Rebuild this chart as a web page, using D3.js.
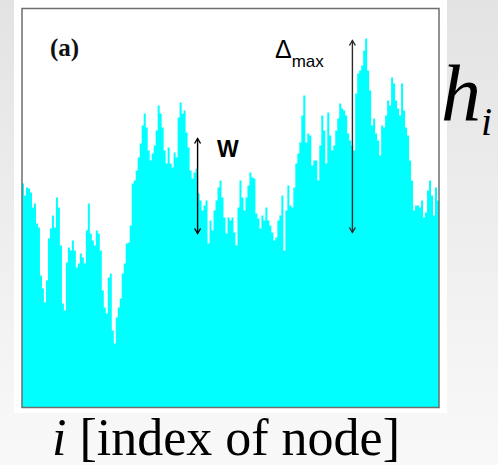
<!DOCTYPE html>
<html>
<head>
<meta charset="utf-8">
<script src="https://cdn.jsdelivr.net/npm/d3@7"></script>
<style>
  html, body { margin: 0; padding: 0; overflow: hidden; background: #f0f0f0; }
  svg { display: block; }
</style>
</head>
<body>
<script>
// Surface height h_i of each node i along the interface
const heights = [
  224, 212, 220, 219, 215, 200, 204, 184, 180, 132, 119, 105, 127, 169, 179, 192, 180, 210, 200, 162,
  104, 97, 145, 160, 157, 167, 157, 140, 144, 154, 150, 144, 177, 204, 174, 167, 162, 177, 174, 157,
  117, 100, 94, 130, 134, 77, 64, 90, 100, 109, 134, 144, 164, 165,
  182, 224, 227, 237, 250, 264, 282, 294, 280, 257, 247, 254, 262, 277, 302, 294, 280, 257, 244, 260,
  244, 240, 255, 250, 290, 305, 294, 297, 275, 260, 237, 229, 235, 239, 214, 207, 197, 202, 207, 164,
  187, 177, 197, 207, 220, 227, 210, 190, 174, 190, 187,
  190, 175, 162, 200, 227, 210, 197, 210, 222, 235, 230, 229, 194, 189, 179, 192, 187, 200, 187, 182,
  175, 167, 170, 187, 192, 212, 157, 197, 222, 202, 200, 220, 244, 254, 265, 292, 312, 265, 274, 272,
  242, 247, 247, 227, 262, 292, 277, 244, 295, 272, 257, 262, 277,
  289, 304, 299, 297, 292, 274, 267, 262, 257, 314, 334, 337, 342, 357, 369, 337, 317, 282, 289, 274,
  267, 252, 282, 280, 292, 307, 302, 330, 324, 307, 299, 292, 324, 297, 280, 272, 247, 227, 197, 202,
  202, 200, 207, 190, 195, 217, 227, 212, 192, 220, 207
];

// Annotated spans: interface width W and the maximal height difference Δmax
const widthSpan = { node: 88, from: 174, to: 269 };
const deltaMaxSpan = { node: 165.6, from: 175, to: 367 };

const W = 498, H = 465;
const svg = d3.select("body").append("svg").attr("width", W).attr("height", H);

// Soft grey slide background
const defs = svg.append("defs");
const bg = defs.append("linearGradient").attr("id", "bg").attr("x1", 0).attr("y1", 0).attr("x2", 0).attr("y2", 1);
bg.append("stop").attr("offset", "0%").attr("stop-color", "#e3e3e3");
bg.append("stop").attr("offset", "100%").attr("stop-color", "#f9f9f9");
svg.append("rect").attr("width", W).attr("height", H).attr("fill", "url(#bg)");

// White card behind the plot
svg.append("rect").attr("x", 14).attr("y", 0).attr("width", 433).attr("height", 413).attr("fill", "#ffffff");

const plot = { left: 22, right: 439, top: 8.5, bottom: 407.5 };
const x = d3.scaleLinear().domain([0, heights.length]).range([plot.left, plot.right]);
const y = d3.scaleLinear().domain([0, 399]).range([plot.bottom, plot.top]);

// Filled height profile
const area = d3.area()
  .x((d, i) => x(i))
  .y0(y(0))
  .y1(d => y(d))
  .curve(d3.curveStepAfter);
svg.append("path")
  .datum(heights.concat([heights[heights.length - 1]]))
  .attr("d", area)
  .attr("fill", "#00ffff");

// Frame
svg.append("rect")
  .attr("x", plot.left).attr("y", plot.top)
  .attr("width", plot.right - plot.left).attr("height", plot.bottom - plot.top)
  .attr("fill", "none").attr("stroke", "#6e6e6e").attr("stroke-width", 1.5);

// Double-headed arrows
function doubleArrow(span, color, width) {
  const ax = x(span.node), yTop = y(span.to), yBot = y(span.from);
  const g = svg.append("g").attr("stroke", color).attr("stroke-width", width).attr("fill", "none");
  g.append("line").attr("x1", ax).attr("x2", ax).attr("y1", yTop).attr("y2", yBot);
  g.append("path").attr("d", `M${ax - 3},${yTop + 5} L${ax},${yTop} L${ax + 3},${yTop + 5}`);
  g.append("path").attr("d", `M${ax - 3},${yBot - 5} L${ax},${yBot} L${ax + 3},${yBot - 5}`);
}
doubleArrow(widthSpan, "#000000", 1.4);
doubleArrow(deltaMaxSpan, "#2a2a2a", 1.4);

// Labels
svg.append("text")
  .attr("x", 50).attr("y", 56)
  .attr("font-family", "'Liberation Serif', 'Times New Roman', serif")
  .attr("font-weight", "bold").attr("font-size", 25)
  .attr("fill", "#111").text("(a)");

svg.append("text")
  .attr("x", 217).attr("y", 157)
  .attr("font-family", "'Liberation Sans', Arial, sans-serif")
  .attr("font-weight", "bold").attr("font-size", 23)
  .attr("fill", "#000").text("W");

const dm = svg.append("text")
  .attr("x", 275).attr("y", 58)
  .attr("font-family", "'Liberation Sans', Arial, sans-serif")
  .attr("fill", "#000");
dm.append("tspan").attr("font-size", 25).text("Δ");
dm.append("tspan").attr("font-size", 17).attr("dy", 9).text("max");

const hi = svg.append("text")
  .attr("x", 441).attr("y", 120)
  .attr("font-family", "'Liberation Serif', 'Times New Roman', serif")
  .attr("font-style", "italic").attr("fill", "#000");
hi.append("tspan").attr("font-size", 80).text("h");
hi.append("tspan").attr("font-size", 40).attr("dy", 15).attr("dx", 0).text("i");

const xl = svg.append("text")
  .attr("x", 52).attr("y", 455)
  .attr("font-family", "'Liberation Serif', 'Times New Roman', serif")
  .attr("font-size", 52).attr("fill", "#000");
xl.append("tspan").attr("font-style", "italic").text("i");
xl.append("tspan").text(" [index of node]");
</script>
</body>
</html>
